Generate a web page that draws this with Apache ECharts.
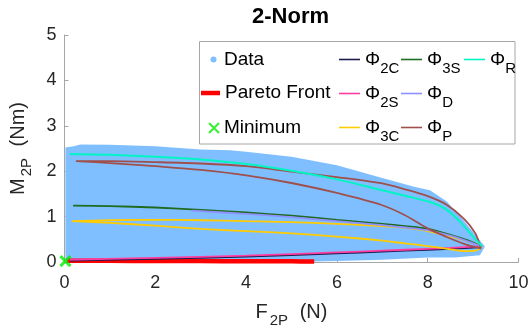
<!DOCTYPE html>
<html><head><meta charset="utf-8">
<script src="https://cdn.jsdelivr.net/npm/echarts@6/dist/echarts.min.js"></script>
<style>html,body{margin:0;padding:0;background:#fff}#c{width:532px;height:333px}</style>
</head><body><div id="c"></div>
<script>
// ---- data ----
// outline of the dense "Data" cloud (top edge left->right, then bottom edge right->left)
const cloudX = [0.02, 0.02, 0.2, 0.35, 1, 2, 3, 3.65, 4, 5, 6, 7, 7.7, 8.05, 8.42, 8.78, 9.08, 9.26, 9.15, 8.6, 8.0, 7.0, 6.0, 5.0, 0.02];
const cloudY = [0.0, 2.52, 2.55, 2.59, 2.58, 2.55, 2.48, 2.46, 2.43, 2.32, 2.13, 1.85, 1.66, 1.58, 1.33, 0.93, 0.56, 0.34, 0.15, 0.10, 0.10, 0.05, 0.02, 0.0, 0.0];

const paretoX = [0.05, 1, 2, 3, 4, 5, 5.5];
const paretoY = [0.03, 0.025, 0.02, 0.02, 0.015, 0.015, 0.01];

const minimumX = [0.02];
const minimumY = [0.02];

const phi2CX = [0.12, 2, 4, 6, 7, 8, 8.5, 9.19];
const phi2CY = [0.03, 0.07, 0.12, 0.19, 0.23, 0.27, 0.29, 0.33];
const phi2SX = [0.12, 2, 4, 6, 7, 8, 8.5, 9.19];
const phi2SY = [0.05, 0.09, 0.14, 0.21, 0.25, 0.29, 0.31, 0.35];

// Phi_3C : upper branch then lower branch (closed loop)
const phi3CX = [0.16, 1, 2, 3, 4, 5, 6, 7, 7.5, 8, 8.5, 8.9, 9.19, 9.05, 8.8, 8.5, 8, 7.5, 7, 6, 5, 4, 3, 2, 1, 0.16];
const phi3CY = [0.90, 0.92, 0.93, 0.92, 0.90, 0.88, 0.84, 0.79, 0.75, 0.68, 0.56, 0.45, 0.34, 0.25, 0.24, 0.28, 0.35, 0.41, 0.47, 0.56, 0.63, 0.68, 0.73, 0.80, 0.86, 0.90];

const phi3SX = [0.19, 1, 2, 3, 4, 5, 6, 7, 7.5, 8, 8.5, 8.9, 9.19];
const phi3SY = [1.24, 1.23, 1.20, 1.15, 1.09, 1.02, 0.93, 0.84, 0.79, 0.73, 0.60, 0.47, 0.34];

const phiDX = [2.8, 3, 4, 5, 6, 7, 7.5, 8, 8.5, 8.9, 9.19];
const phiDY = [1.13, 1.12, 1.06, 0.99, 0.90, 0.81, 0.76, 0.70, 0.58, 0.45, 0.34];

// Phi_P : upper branch then lower branch (closed loop)
const phiPX = [0.25, 1, 2, 3, 4, 5, 6, 7, 7.5, 8, 8.4, 8.8, 9.05, 9.17, 8.8, 8.4, 8, 7.5, 7, 6, 5, 4, 3, 2, 1, 0.25];
const phiPY = [2.22, 2.22, 2.20, 2.17, 2.11, 1.99, 1.87, 1.73, 1.60, 1.45, 1.27, 0.95, 0.63, 0.30, 0.40, 0.56, 0.74, 1.03, 1.25, 1.52, 1.74, 1.91, 2.03, 2.11, 2.18, 2.22];

const phiRX = [0.12, 1, 2, 3, 4, 5, 6, 7, 7.5, 8.05, 8.42, 8.71, 9.0, 9.19];
const phiRY = [2.38, 2.36, 2.32, 2.26, 2.16, 2.01, 1.82, 1.58, 1.46, 1.32, 1.15, 0.89, 0.56, 0.35];

const xTicks = [0, 2, 4, 6, 8, 10];
const yTicks = [0, 1, 2, 3, 4, 5];

// ---- chart ----
const FONT = 'Liberation Sans, Arial, sans-serif';
const pairs = (xs, ys) => xs.map((x, i) => [x, ys[i]]);
const chart = echarts.init(document.getElementById('c'), null, {renderer: 'canvas'});

const AX = '#a6a6a6';
const LBL = '#262626';

function lineSeries(name, xs, ys, color, width, z) {
  return {
    name, type: 'line', data: pairs(xs, ys), symbol: 'none', showSymbol: false, smooth: 0.3,
    lineStyle: {color, width}, itemStyle: {color}, z: z || 3, silent: true, animation: false
  };
}

const legendRich = {
  p: {fontSize: 19, fontFamily: FONT, color: '#000', lineHeight: 34},
  s: {fontSize: 15, fontFamily: FONT, color: '#000', padding: [18, 0, 0, 0]}
};
function fmt(name) {
  if (name.charAt(0) === 'Φ') return '{p|Φ}{s|' + name.slice(1) + '}';
  return name;
}
function legend(extra) {
  return Object.assign({
    orient: 'vertical', padding: 0, itemGap: 0, itemWidth: 21, itemHeight: 1.6,
    selectedMode: false, formatter: fmt, icon: 'rect',
    textStyle: {fontFamily: FONT, fontSize: 19, color: '#000', lineHeight: 34, rich: legendRich}
  }, extra);
}

const xMin = xTicks[0], xMax = xTicks[xTicks.length - 1];
const yMin = yTicks[0], yMax = yTicks[yTicks.length - 1];

const option = {
  animation: false,
  backgroundColor: '#fff',
  title: {
    text: '2-Norm', left: 252, top: 6, padding: 0,
    textStyle: {fontFamily: FONT, fontSize: 22, fontWeight: 'bold', color: '#000'}
  },
  grid: {left: 64.5, right: 13.5, top: 35, bottom: 71},
  xAxis: {
    type: 'value', min: xMin, max: xMax, interval: xTicks[1] - xTicks[0],
    axisLine: {show: true, lineStyle: {color: AX, width: 1}},
    axisTick: {show: true, inside: true, length: 4, lineStyle: {color: AX}},
    splitLine: {show: false},
    axisLabel: {fontFamily: FONT, fontSize: 18, color: LBL, margin: 12},
    name: '{m|F}{s|2P}{m| (N)}', nameLocation: 'middle', nameGap: 35,
    nameTextStyle: {
      rich: {
        m: {fontFamily: FONT, fontSize: 20, color: LBL},
        s: {fontFamily: FONT, fontSize: 15, color: LBL, padding: [16, 6, 0, 2]}
      }
    }
  },
  yAxis: {
    type: 'value', min: yMin, max: yMax, interval: yTicks[1] - yTicks[0],
    axisLine: {show: true, lineStyle: {color: AX, width: 1}},
    axisTick: {show: true, inside: true, length: 4, lineStyle: {color: AX}},
    splitLine: {show: false},
    axisLabel: {fontFamily: FONT, fontSize: 18, color: LBL, margin: 8},
    name: '{m|M}{s|2P}{m| (Nm)}', nameLocation: 'middle', nameGap: 30,
    nameTextStyle: {
      rich: {
        m: {fontFamily: FONT, fontSize: 20, color: LBL},
        s: {fontFamily: FONT, fontSize: 15, color: LBL, padding: [18, 6, 0, 2]}
      }
    }
  },
  graphic: [{
    type: 'rect', z: 3, silent: true,
    shape: {x: 199.5, y: 41.5, width: 315.5, height: 102.5},
    style: {fill: '#fff', stroke: '#a6a6a6', lineWidth: 1}
  }],
  legend: [
    legend({left: 210.5, top: 42.5, itemWidth: 11, itemHeight: 6, icon: 'circle', data: ['Data']}),
    legend({left: 201, top: 76, itemWidth: 19, itemHeight: 4.5, data: ['Pareto Front']}),
    legend({left: 208, top: 111, itemWidth: 10, itemHeight: 10, icon: null, data: [{name: 'Minimum', icon: 'path://M0,0L10,10M0,10L10,0'}]}),
    legend({left: 339, top: 42.5, data: ['Φ2C', 'Φ2S', 'Φ3C']}),
    legend({left: 401, top: 42.5, data: ['Φ3S', 'ΦD', 'ΦP']}),
    legend({left: 464, top: 42.5, data: ['ΦR']})
  ],
  series: [
    {
      name: 'Data', type: 'custom', silent: true, z: 1,
      itemStyle: {color: '#80bfff'},
      data: pairs(cloudX, cloudY),
      encode: {x: 0, y: 1},
      renderItem: function (params, api) {
        if (params.dataIndex !== 0) return null;
        const pts = cloudX.map((x, i) => api.coord([x, cloudY[i]]));
        return {type: 'polygon', shape: {points: pts}, style: {fill: '#80bfff'}};
      }
    },
    lineSeries('Pareto Front', paretoX, paretoY, '#ff0000', 4.5, 2),
    lineSeries('Φ2C', phi2CX, phi2CY, '#1c1c50', 1.8),
    lineSeries('Φ2S', phi2SX, phi2SY, '#ff3ca0', 1.8),
    lineSeries('Φ3C', phi3CX, phi3CY, '#ffcc00', 1.8),
    lineSeries('Φ3S', phi3SX, phi3SY, '#1f6b22', 1.8),
    lineSeries('ΦD', phiDX, phiDY, '#8f8fff', 1.8),
    lineSeries('ΦP', phiPX, phiPY, '#a0504c', 1.8),
    lineSeries('ΦR', phiRX, phiRY, '#00f5c4', 2),
    {
      name: 'Minimum', type: 'scatter', z: 5, silent: true,
      data: pairs(minimumX, minimumY),
      symbol: 'path://M0,0L10,10M0,10L10,0', symbolSize: 10,
      itemStyle: {color: 'rgba(0,0,0,0)', borderColor: '#00ee00', borderWidth: 3}
    }
  ]
};
chart.setOption(option);
</script>
</body></html>
